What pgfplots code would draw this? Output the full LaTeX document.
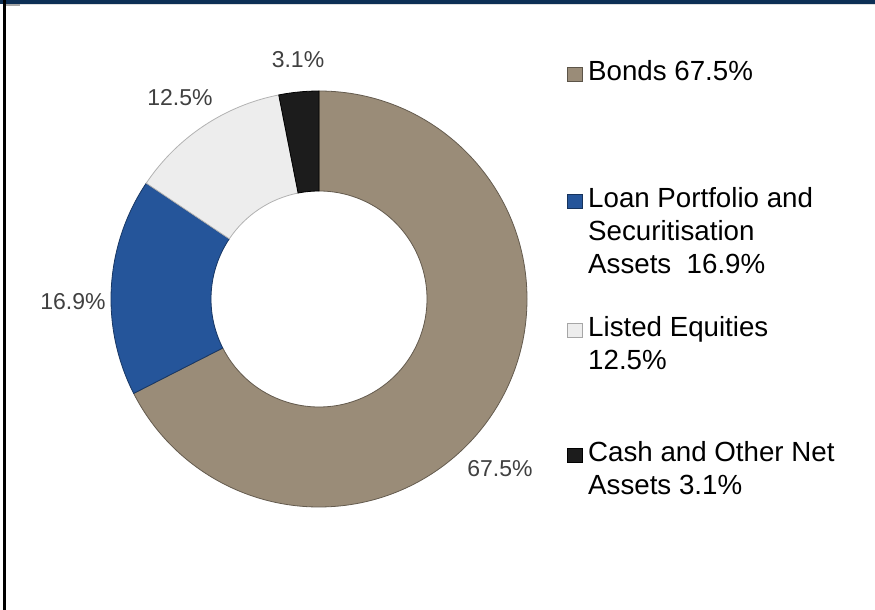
\documentclass[border=0pt]{standalone}
\usepackage{pgfplots}
\pgfplotsset{compat=1.18}
\usepackage{fontspec}
\setmainfont{Liberation Sans}
\definecolor{bonds}{HTML}{9A8C78}
\definecolor{loan}{HTML}{25559A}
\definecolor{equity}{HTML}{EDEDED}
\definecolor{cash}{HTML}{1C1C1C}
\definecolor{navy}{HTML}{0D2F55}
\definecolor{lbl}{HTML}{404040}
% data (percent)
\def\vBonds{67.5}
\def\vLoan{16.9}
\def\vEquity{12.5}
\def\vCash{3.1}
\pgfmathsetmacro\aA{90}
\pgfmathsetmacro\aB{\aA-\vBonds*3.6}
\pgfmathsetmacro\aC{\aB-\vLoan*3.6}
\pgfmathsetmacro\aD{\aC-\vEquity*3.6}
\pgfmathsetmacro\aE{\aD-\vCash*3.6}
\newcommand{\seg}[4]{% color, edge colour, start, end
  \fill[#1] ([shift={(C)}]#3:208pt) arc[start angle=#3,end angle=#4,radius=208pt]
    -- ([shift={(C)}]#4:108pt) arc[start angle=#4,end angle=#3,radius=108pt] -- cycle;
  \draw[#2,line width=0.8pt] ([shift={(C)}]#3:208pt) arc[start angle=#3,end angle=#4,radius=208pt]
    -- ([shift={(C)}]#4:108pt) arc[start angle=#4,end angle=#3,radius=108pt] -- cycle;
}
\begin{document}
\begin{tikzpicture}
\begin{axis}[width=875pt,height=610pt,scale only axis,
  xmin=0,xmax=875,ymin=0,ymax=610,hide axis,clip=false]
\coordinate (SW) at (axis cs:0,0);
\coordinate (NE) at (axis cs:875,610);
\coordinate (C) at (axis cs:319,311);
% frame
\fill[navy] (axis cs:0,606) rectangle (axis cs:875,610);
\fill[gray!25] (axis cs:5,605) rectangle (axis cs:875,606);
\fill[black] (axis cs:2.5,0) rectangle (axis cs:5.5,610);
\fill[gray!70] (axis cs:6,604) rectangle (axis cs:20,606);
% donut
\seg{bonds}{bonds!65!black}{\aA}{\aB}
\seg{loan}{loan!65!black}{\aB}{\aC}
\seg{equity}{gray!60}{\aC}{\aD}
\seg{cash}{black}{\aD}{\aE}
% data labels
\begin{scope}[every node/.style={text=lbl,font=\fontsize{23}{27}\selectfont,anchor=base,inner sep=0pt}]
\node at (axis cs:298,542) {3.1\%};
\node at (axis cs:180,504) {12.5\%};
\node at (axis cs:73,300) {16.9\%};
\node at (axis cs:500,133) {67.5\%};
\end{scope}
% legend
\begin{scope}[every node/.style={text=black,font=\fontsize{27.7}{33}\selectfont,anchor=base west,inner sep=0pt}]
\fill[bonds] (axis cs:567,529) rectangle (axis cs:582,543);
\draw[bonds!60!black,line width=0.6pt] (axis cs:567,529) rectangle (axis cs:582,543);
\node at (axis cs:588,529) {Bonds 67.5\%};
\fill[loan] (axis cs:567,402) rectangle (axis cs:582,416);
\draw[loan!60!black,line width=0.6pt] (axis cs:567,402) rectangle (axis cs:582,416);
\node at (axis cs:588,402) {Loan Portfolio and};
\node at (axis cs:588,369) {Securitisation};
\node at (axis cs:588,336) {Assets\ \ 16.9\%};
\fill[equity] (axis cs:567,273) rectangle (axis cs:582,287);
\draw[gray!70,line width=0.6pt] (axis cs:567,273) rectangle (axis cs:582,287);
\node at (axis cs:588,273) {Listed Equities};
\node at (axis cs:588,240) {12.5\%};
\fill[cash] (axis cs:567,148) rectangle (axis cs:582,162);
\draw[black,line width=0.6pt] (axis cs:567,148) rectangle (axis cs:582,162);
\node at (axis cs:588,148) {Cash and Other Net};
\node at (axis cs:588,115) {Assets 3.1\%};
\end{scope}
\end{axis}
\pgfresetboundingbox
\path (SW) rectangle (NE);
\end{tikzpicture}
\end{document}
